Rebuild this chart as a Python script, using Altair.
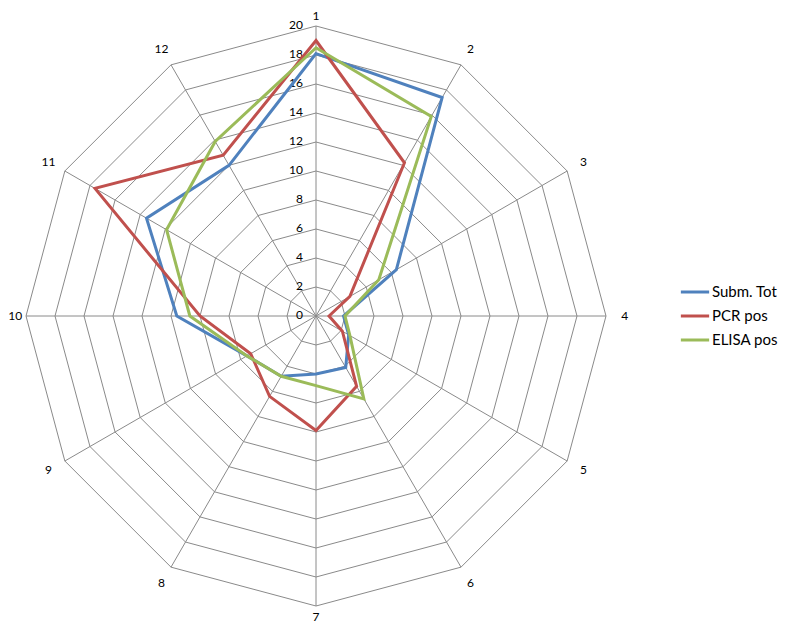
import altair as alt
import pandas as pd

axes = list(range(1, 13))
series_names = ["Subm. Tot", "PCR pos", "ELISA pos"]
subm_tot = [18.1, 17.4, 6.4, 1.9, 2.6, 4.1, 4.0, 4.8, 5.5, 9.6, 13.5, 12.0]
pcr_pos = [19.0, 12.2, 2.7, 0.9, 2.1, 5.6, 7.9, 6.4, 5.2, 8.0, 17.6, 12.8]
elisa_pos = [18.5, 15.9, 5.0, 2.0, 2.7, 6.6, 4.8, 4.8, 5.5, 8.7, 11.9, 13.9]
colors = ["#4F81BD", "#C0504D", "#9BBB59"]
ring_values = list(range(2, 21, 2))
tick_labels = list(range(0, 21, 2))
max_r = 20

rows = []
for name, vals in zip(series_names, [subm_tot, pcr_pos, elisa_pos]):
    for a, v in zip(axes, vals):
        rows.append({"series": name, "axis": a, "value": v})
series_df = pd.DataFrame(rows)

grid_df = pd.DataFrame([{"ring": r, "axis": a} for r in ring_values for a in axes])
spoke_df = pd.DataFrame({"axis": axes})
tick_df = pd.DataFrame({"tick": tick_labels})
label_df = pd.DataFrame({"axis": axes, "label": [str(a) for a in axes]})

ang = "2*PI*(datum.axis-1)/12"
xs = alt.Scale(domain=[-max_r, max_r], nice=False, zero=False)
ys = alt.Scale(domain=[-max_r, max_r], nice=False, zero=False)
grid_color = "#8a8a8a"

grid = alt.Chart(grid_df).transform_calculate(
    x=f"datum.ring*sin({ang})", y=f"datum.ring*cos({ang})"
).mark_line(interpolate="linear-closed", color=grid_color, strokeWidth=1).encode(
    x=alt.X("x:Q", scale=xs, axis=None),
    y=alt.Y("y:Q", scale=ys, axis=None),
    detail="ring:N",
    order="axis:Q",
)

spokes = alt.Chart(spoke_df).transform_calculate(
    x0="0", y0="0", x=f"{max_r}*sin({ang})", y=f"{max_r}*cos({ang})"
).mark_rule(color=grid_color, strokeWidth=1).encode(
    x=alt.X("x0:Q", scale=xs, axis=None),
    y=alt.Y("y0:Q", scale=ys, axis=None),
    x2="x:Q",
    y2="y:Q",
)

ticks = alt.Chart(tick_df).transform_calculate(x0="0").mark_text(
    align="right", baseline="middle", dx=-13, dy=-1, font="Lato", fontSize=12, color="#000000"
).encode(
    x=alt.X("x0:Q", scale=xs, axis=None),
    y=alt.Y("tick:Q", scale=ys, axis=None),
    text="tick:Q",
)

labels = alt.Chart(label_df).transform_calculate(
    x=f"max(21.3*sin({ang}), -20.75)",
    y=f"min(max(21.3*cos({ang}), -20.75), 20.7)",
).mark_text(align="center", baseline="middle", font="Lato", fontSize=12, color="#000000").encode(
    x=alt.X("x:Q", scale=xs, axis=None),
    y=alt.Y("y:Q", scale=ys, axis=None),
    text="label:N",
)

lines = alt.Chart(series_df).transform_calculate(
    x=f"datum.value*sin({ang})", y=f"datum.value*cos({ang})"
).mark_line(interpolate="linear-closed", strokeWidth=3).encode(
    x=alt.X("x:Q", scale=xs, axis=None),
    y=alt.Y("y:Q", scale=ys, axis=None),
    color=alt.Color(
        "series:N",
        scale=alt.Scale(domain=series_names, range=colors),
        sort=series_names,
        legend=alt.Legend(
            orient="none", legendX=653, legendY=250, title=None,
            symbolType="stroke", symbolStrokeWidth=3, symbolSize=800,
            labelFont="Lato", labelFontSize=15, labelColor="#000000",
            labelOffset=1, padding=0, rowPadding=-0.5,
        ),
    ),
    order="axis:Q",
)

chart = alt.layer(grid, spokes, ticks, labels, lines).properties(
    width=580, height=580,
    autosize=alt.AutoSizeParams(type="none"),
    padding={"left": 18, "top": 18, "right": 174, "bottom": 17},
).configure_view(stroke=None)

chart.save("out.html", embed_options={"renderer": "svg", "actions": False})
